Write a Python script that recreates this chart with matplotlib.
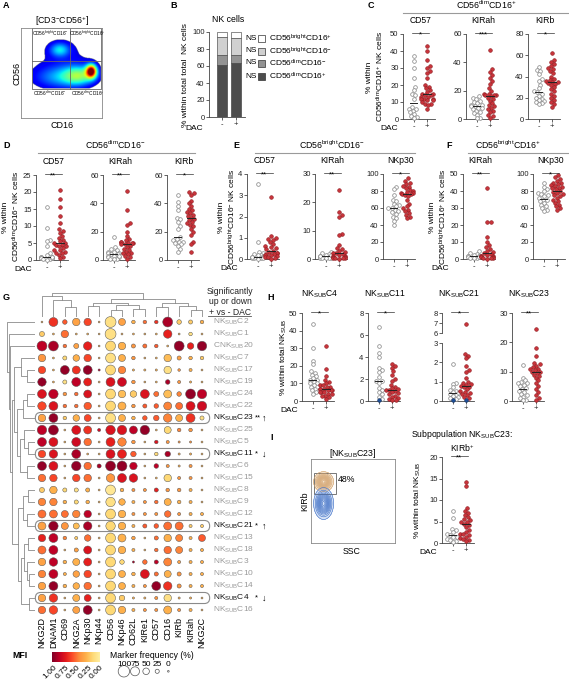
import numpy as np
import matplotlib
matplotlib.use('Agg')
import matplotlib.pyplot as plt
from matplotlib.patches import FancyBboxPatch, Rectangle
from matplotlib.lines import Line2D
from matplotlib.colors import LinearSegmentedColormap

plt.rcParams['font.family'] = ['Liberation Sans', 'DejaVu Sans']
plt.rcParams['mathtext.fontset'] = 'custom'
plt.rcParams['mathtext.rm'] = 'Liberation Sans'
plt.rcParams['mathtext.it'] = 'Liberation Sans:italic'
plt.rcParams['mathtext.bf'] = 'Liberation Sans:bold'
plt.rcParams['axes.linewidth'] = 0.6

# ---------------- data ----------------
# B: stacked NK subsets (- DAC, + DAC)
B_DIM_POS = [61, 64]
B_DIM_NEG = [12, 9]
B_BRIGHT_NEG = [21, 20]
B_BRIGHT_POS = [6, 7]

# C: CD56dim CD16+
C_CD57_NEG = [37, 34, 30, 24, 19, 17, 15, 14, 12, 7, 6, 6, 5, 4, 3, 2, 1, 0.5]
C_CD57_POS = [43, 40, 35, 31, 30, 28, 27, 24, 20, 19, 18, 17, 16, 15, 15, 14, 14,
              13, 13, 12, 12, 12, 11, 11, 10, 9, 9, 8, 6]
C_KIRAH_NEG = [16, 15, 14, 13, 12, 11, 10, 10, 9, 9, 8, 8, 7, 6, 5, 4, 3, 1, 0.5]
C_KIRAH_POS = [49, 35, 33, 31, 29, 27, 25, 22, 20, 18, 18, 17, 17, 17, 16, 15, 14,
               13, 11, 10, 9, 8, 7, 6, 5, 3, 2, 1]
C_KIRB_NEG = [49, 46, 45, 42, 38, 36, 32, 29, 26, 25, 24, 22, 20, 19, 18, 17, 16, 15, 14]
C_KIRB_POS = [62, 56, 54, 52, 50, 48, 47, 45, 43, 40, 38, 37, 36, 35, 35, 34, 33,
              32, 30, 28, 26, 24, 22, 20, 18, 16, 14, 11]

# D: CD56dim CD16-
D_CD57_NEG = [15.5, 9.5, 6, 5.5, 4, 2, 1.5, 1, 1, 0.8, 0.6, 0.5, 0.5, 0.3, 0.2, 0.1, 0.5, 1]
D_CD57_POS = [20.5, 18, 15.5, 13, 11, 9, 8.5, 8, 7, 6.5, 6, 5.5, 5, 5, 4.5, 4.5, 4,
              4, 3.5, 3, 3, 2.5, 2, 1.5, 1, 0.5, 2]
D_KIRAH_NEG = [16, 9, 8, 7, 6, 6, 5, 5, 4, 4, 3, 3, 2, 2, 1, 0.5, 1, 3]
D_KIRAH_POS = [49, 35, 26, 25, 20, 17, 15, 14, 13, 13, 12, 12, 12, 11, 11, 10, 9,
               8, 7, 6, 5, 5, 4, 3, 2, 1]
D_KIRB_NEG = [46, 41, 38, 35, 30, 29, 27, 24, 22, 16, 15, 14, 13, 13, 12, 11, 10, 8, 6]
D_KIRB_POS = [48, 47, 46, 42, 40, 38, 36, 35, 34, 33, 32, 31, 30, 29, 28, 27, 26,
              25, 24, 22, 20, 18, 13, 11, 6]

# E: CD56bright CD16-
E_CD57_NEG = [3.55, 0.8, 0.35, 0.3, 0.25, 0.2, 0.15, 0.1, 0.1, 0.08, 0.05, 0.05,
              0.03, 0.02, 0.1, 0.2, 0.05]
E_CD57_POS = [2.9, 1.1, 1.0, 0.95, 0.9, 0.8, 0.7, 0.6, 0.55, 0.5, 0.45, 0.4, 0.35,
              0.3, 0.3, 0.25, 0.25, 0.2, 0.2, 0.15, 0.1, 0.1, 0.05, 0.02]
E_KIRAH_NEG = [2.5, 2.0, 1.8, 1.5, 1.2, 1.0, 1.0, 0.8, 0.7, 0.5, 0.5, 0.4, 0.3, 0.2, 1.3, 0.9]
E_KIRAH_POS = [24.5, 16.5, 15.5, 15, 9, 8.5, 5, 4, 3.5, 3, 2.5, 2, 2, 1.8, 1.5, 1.2,
               1, 0.8, 0.6, 0.5, 0.4, 0.3, 0.2, 0.1]
E_NKP30_NEG = [85, 82, 75, 70, 68, 65, 63, 62, 60, 58, 56, 55, 53, 50, 48, 45, 40, 60]
E_NKP30_POS = [95, 92, 90, 88, 86, 85, 83, 81, 80, 79, 78, 78, 77, 76, 75, 74, 70,
               65, 62, 60, 58, 56, 54, 52, 50, 48]

# F: CD56bright CD16+
F_KIRAH_NEG = [4.5, 3.5, 3, 2.5, 2, 1.5, 1.5, 1, 1, 0.8, 0.5, 0.3, 2, 1.2]
F_KIRAH_POS = [42, 22, 22, 13, 10, 8, 7, 6, 5, 4, 3.5, 3, 2.5, 2, 1.8, 1.5, 1.2, 1,
               0.8, 0.5, 0.3, 0.2]
F_NKP30_NEG = [90, 85, 82, 80, 78, 76, 75, 74, 72, 70, 68, 66, 64, 62, 60, 58, 56, 70]
F_NKP30_POS = [99, 96, 94, 92, 90, 89, 88, 87, 86, 85, 84, 83, 82, 80, 79, 78, 76,
               75, 74, 72, 70, 68, 66, 64, 62, 60, 58]

# H: subpopulations
H_C4_NEG = [44, 30, 23, 21, 17, 16, 15, 14, 13, 12, 12, 11, 10, 10, 9, 8, 7, 6, 5, 4]
H_C4_POS = [31, 18, 14, 12, 11, 10, 9, 9, 8, 8, 7, 7, 7, 6, 6, 6, 5, 5, 5, 4, 4, 3, 3, 2, 1]
H_C11_NEG = [6.7, 5.0, 4.4, 4.0, 3.0, 2.8, 2.6, 2.2, 1.8, 1.8, 1.6, 1.2, 1.0, 0.8, 0.6, 0.4, 0.2]
H_C11_NEG_BLUE = [0.05]
H_C11_POS = [3.4, 3.2, 3.0, 2.7, 2.4, 2.0, 1.8, 1.5, 1.3, 1.2, 1.1, 1.0, 1.0, 0.9,
             0.8, 0.7, 0.6, 0.5, 0.4, 0.3, 0.2, 0.1, 0.05]
H_C21_NEG = [1.9, 0.95, 0.9, 0.7, 0.55, 0.5, 0.45, 0.4, 0.35, 0.3, 0.25, 0.2, 0.15, 0.1]
H_C21_NEG_BLUE = [0.05]
H_C21_POS = [6.9, 2.45, 2.35, 2.2, 1.8, 1.6, 1.5, 1.2, 1.0, 0.95, 0.9, 0.85, 0.8,
             0.75, 0.7, 0.6, 0.5, 0.45, 0.4, 0.35, 0.3, 0.2, 0.15]
H_C21_POS_BLUE = [0.05]
H_C23_NEG = [12.3, 8, 7, 6.5, 6, 6, 5.5, 5, 4.5, 4, 3.5, 3, 2.5, 2, 1.5, 1, 0.5, 0.2]
H_C23_POS = [24.5, 18, 15.5, 13, 12.5, 12, 11.5, 11, 11, 10.5, 10, 10, 9.5, 9, 8.5,
             8, 7, 6, 5, 4, 3, 2, 1, 0.5]

# I: NKsubC23 KIRb+
I_NEG = [7.5, 5.8, 3.3, 3.0, 2.5, 2.0, 1.8, 1.5, 1.3, 1.0, 0.8, 0.5, 0.2]
I_POS = [14.3, 13.3, 8.2, 7.5, 7.0, 6.5, 6.0, 5.6, 5.3, 5.0, 4.8, 4.5, 4.2, 3.8,
         3.0, 2.5, 2.2, 2.0, 1.8, 1.5, 1.2, 1.0, 0.8, 0.5]

# G: bubble heatmap
G_MARKERS = ['NKG2D', 'DNAM1', 'CD69', 'NKG2A', 'NKp30', 'NKp44', 'CD56', 'NKp46',
             'CD62L', 'KIRe1', 'CD57', 'CD16', 'KIRb', 'KIRah', 'NKG2C']
G_CLUSTERS = ['C2', 'C1', '20', 'C7', 'C17', 'C19', 'C24', 'C22', 'C23', 'C25', 'C5',
              'C11', 'C6', 'C15', 'C8', 'C9', 'C12', 'C21', 'C13', 'C18', 'C3', 'C10',
              'C14', 'C4', 'C16']
G_SIG = {'C23': ('**', '↑'), 'C11': ('*', '↓'), 'C21': ('*', '↑'), 'C4': ('*', '↓')}
G_FREQ = [
    [2, 75, 30, 60, 60, 2, 95, 55, 20, 20, 20, 85, 30, 25, 20],
    [35, 3, 60, 3, 3, 2, 95, 3, 3, 3, 3, 70, 3, 20, 3],
    [85, 85, 20, 35, 70, 2, 85, 60, 25, 25, 20, 3, 85, 50, 80],
    [60, 3, 25, 50, 60, 2, 85, 55, 20, 3, 3, 60, 25, 20, 20],
    [60, 3, 75, 65, 75, 5, 85, 60, 5, 5, 5, 60, 10, 15, 3],
    [70, 3, 25, 75, 65, 3, 75, 75, 20, 3, 3, 30, 15, 5, 3],
    [75, 80, 20, 20, 65, 3, 85, 60, 50, 75, 35, 65, 30, 85, 80],
    [70, 75, 20, 20, 60, 3, 85, 65, 20, 25, 30, 65, 55, 75, 80],
    [60, 75, 20, 50, 55, 3, 85, 55, 20, 30, 40, 70, 55, 75, 25],
    [80, 85, 3, 75, 65, 15, 80, 80, 65, 80, 3, 55, 20, 20, 3],
    [75, 75, 3, 75, 60, 3, 75, 70, 20, 3, 20, 15, 5, 5, 3],
    [60, 70, 3, 75, 3, 3, 75, 75, 40, 3, 20, 40, 5, 5, 3],
    [75, 75, 3, 80, 60, 25, 85, 85, 60, 3, 30, 15, 5, 15, 3],
    [60, 60, 3, 60, 60, 3, 70, 75, 70, 3, 3, 60, 15, 15, 3],
    [35, 60, 25, 25, 25, 3, 85, 20, 15, 15, 25, 20, 20, 15, 3],
    [60, 60, 20, 25, 20, 3, 80, 50, 15, 15, 20, 55, 20, 15, 3],
    [65, 65, 55, 60, 60, 3, 85, 60, 15, 15, 15, 50, 15, 15, 15],
    [65, 80, 55, 45, 70, 3, 80, 60, 15, 25, 30, 65, 65, 15, 15],
    [60, 75, 20, 15, 50, 3, 85, 65, 20, 3, 25, 60, 55, 15, 55],
    [65, 75, 3, 25, 65, 3, 85, 60, 15, 3, 20, 60, 55, 15, 15],
    [60, 70, 20, 55, 65, 3, 85, 30, 5, 30, 25, 65, 15, 15, 15],
    [60, 75, 15, 50, 60, 3, 85, 55, 20, 75, 25, 55, 25, 15, 15],
    [60, 75, 20, 50, 60, 3, 85, 55, 15, 15, 75, 70, 25, 15, 15],
    [60, 70, 3, 55, 55, 3, 85, 40, 5, 5, 15, 60, 5, 5, 3],
    [60, 70, 3, 55, 75, 3, 85, 60, 15, 15, 15, 65, 15, 15, 3],
]
G_MFI = [
    [.3, .65, .55, .35, .6, .3, .1, .35, .3, .5, .65, .9, .2, .2, .3],
    [.2, .3, .5, .3, .3, .3, .1, .3, .3, .3, .3, .7, .3, .1, .3],
    [.85, .9, .5, .35, .7, .3, .15, .3, .4, .5, .55, .3, .95, .7, .95],
    [.4, .3, .15, .3, .6, .3, .1, .3, .4, .3, .3, .25, .35, .3, .2],
    [.6, .3, .95, .65, .95, .9, .15, .45, .3, .3, .3, .1, .4, .3, .3],
    [.95, .3, .1, .85, .7, .3, .75, .8, .4, .3, .3, .9, .4, .3, .3],
    [.75, .85, .4, .5, .75, .3, .15, .25, .2, .75, .5, .25, .45, .95, .85],
    [.6, .75, .5, .5, .55, .3, .15, .3, .4, .55, .55, .45, .5, .75, .8],
    [.35, .95, .2, .3, .6, .3, .1, .3, .3, .55, .55, .45, .3, .65, .1],
    [.85, .95, .3, .75, .65, .8, .75, .75, .85, .95, .3, .15, .45, .4, .3],
    [.85, .75, .3, .8, .5, .3, .7, .45, .4, .3, .75, .4, .4, .4, .3],
    [.6, .75, .3, .9, .3, .3, .75, .7, .55, .3, .15, .9, .3, .3, .3],
    [.95, .75, .3, .95, .5, .9, .95, .95, .85, .3, .85, .4, .3, .4, .3],
    [.5, .6, .3, .6, .5, .3, .4, .75, .75, .3, .3, .15, .4, .4, .3],
    [.2, .3, .15, .1, .3, .3, .05, .3, .4, .4, .7, .4, .4, .3, .3],
    [.45, .45, .3, .15, .3, .3, .1, .3, .3, .4, .5, .3, .3, .3, .3],
    [.5, .5, .5, .45, .85, .3, .15, .3, .4, .4, .4, .5, .4, .3, .3],
    [.35, .95, .4, .25, .9, .3, .15, .3, .3, .55, .55, .5, .5, .2, .2],
    [.7, .85, .45, .2, .5, .3, .15, .3, .35, .3, .5, .3, .45, .3, .55],
    [.5, .85, .3, .35, .75, .3, .15, .3, .3, .3, .5, .5, .45, .3, .3],
    [.35, .85, .3, .3, .7, .3, .15, .15, .9, .5, .85, .45, .35, .3, .3],
    [.45, .85, .3, .35, .6, .3, .15, .3, .3, .75, .5, .3, .4, .3, .3],
    [.35, .95, .3, .3, .5, .3, .15, .3, .3, .4, .95, .65, .4, .3, .3],
    [.35, .65, .3, .3, .7, .3, .15, .2, .3, .3, .4, .1, .3, .3, .3],
    [.5, .6, .3, .35, .95, .3, .15, .3, .3, .4, .4, .3, .4, .3, .3],
]
# dendrograms: (left, right, height), leaves are indices
ROW_TREE = (0, (1, (2, (((3, (4, 5, 0.3), 0.5),
                          (((6, 7, 0.3), 8, 0.45),
                           ((9, (10, 11, 0.25), 0.4), (12, 13, 0.3), 0.55), 0.65), 0.75),
                         (((14, 15, 0.25), (16, 17, 0.3), 0.45),
                          (((18, 19, 0.25), (20, (21, 22, 0.2), 0.3), 0.4),
                           (23, 24, 0.2), 0.5), 0.6), 0.85), 0.9), 0.95), 1.0)
COL_TREE = ((0, (1, (2, 3, 0.4), 0.7), 0.9),
            (((4, 5, 0.45), ((6, 7, 0.3), (8, 9, 0.35), 0.5), 0.6),
             ((10, 11, 0.4), (12, (13, 14, 0.3), 0.45), 0.6), 0.75), 1.0)

# flow plot density blobs (cx, cy, sx, sy, amplitude) in axes fraction
A_BLOBS = [(0.87, 0.52, 0.045, 0.05, 1.0), (0.72, 0.47, 0.14, 0.075, 0.42),
           (0.45, 0.45, 0.22, 0.09, 0.22), (0.48, 0.76, 0.085, 0.055, 0.3),
           (0.55, 0.64, 0.33, 0.22, 0.1)]
I_BLOB_KIRB = (0.15, 0.73, 0.05, 0.05)
I_BLOB_REST = (0.15, 0.47, 0.05, 0.08)

# ---------------- helpers ----------------
W, H = 569, 680
fig = plt.figure(figsize=(W / 100, H / 100), dpi=100)
fig.patch.set_facecolor('white')

RED = '#c9343b'
NEG_KW = dict(facecolor='white', edgecolor='#8c8c8c', linewidth=0.55, s=7, zorder=3, clip_on=False)
POS_KW = dict(facecolor=RED, edgecolor='#8e1b20', linewidth=0.4, s=7, zorder=3, clip_on=False)
BLUE_KW = dict(facecolor='#1d4f9a', edgecolor='#13305e', linewidth=0.4, s=7, zorder=4, clip_on=False)


def px_ax(x0, y0, x1, y1):
    return fig.add_axes([x0 / W, 1 - y1 / H, (x1 - x0) / W, (y1 - y0) / H])


def ftext(x, y, s, **kw):
    kw.setdefault('fontsize', 6)
    return fig.text(x / W, 1 - y / H, s, **kw)


def fline(x0, x1, y, color='#9a9a9a', lw=0.8):
    fig.add_artist(Line2D([x0 / W, x1 / W], [1 - y / H, 1 - y / H],
                          transform=fig.transFigure, color=color, lw=lw))


def swarm(vals, yppu, d=3.6):
    vals = np.asarray(vals, float)
    placed = []
    offs = np.zeros(len(vals))
    for i in np.argsort(vals):
        y = vals[i] * yppu
        cands = [0.0]
        for px, py in placed:
            dy = abs(py - y)
            if dy < d:
                dx = np.sqrt(d * d - dy * dy)
                cands += [px + dx + 0.01, px - dx - 0.01]
        cands.sort(key=abs)
        for c in cands:
            if all((c - px) ** 2 + (y - py) ** 2 >= d * d - 0.05 for px, py in placed):
                break
        placed.append((c, y))
        offs[i] = c
    return offs


def style_ax(ax, ymin, ymax, yticks, bottom=True):
    for s in ('top', 'right'):
        ax.spines[s].set_visible(False)
    ax.spines['left'].set_color('#444')
    ax.spines['bottom'].set_color('#444')
    ax.spines['bottom'].set_visible(bottom)
    ax.set_ylim(ymin, ymax)
    ax.set_yticks(yticks)
    ax.set_yticklabels([f'{t:g}' for t in yticks])
    ax.set_xlim(-0.8, 1.6)
    if bottom:
        ax.set_xticks([0, 1])
        ax.set_xticklabels(['-', '+'], fontsize=6.5)
    else:
        ax.set_xticks([])
    ax.tick_params(labelsize=5.5, length=2, width=0.5, pad=1.2, colors='#222')
    ax.patch.set_alpha(0)


def plot_groups(ax, box, ymin, ymax, neg, pos, neg_blue=(), pos_blue=()):
    x0, y0, x1, y1 = box
    xppu = (x1 - x0) / 2.4
    yppu = (y1 - y0) / (ymax - ymin)
    for xi, vals, blue, kw in ((0, neg, neg_blue, NEG_KW), (1, pos, pos_blue, POS_KW)):
        allv = list(vals) + list(blue)
        off = np.clip(swarm(np.array(allv) - ymin, yppu) / xppu, -0.42, 0.42)
        n = len(vals)
        ax.scatter(xi + off[:n], vals, **kw)
        if blue:
            ax.scatter(xi + off[n:], blue, **BLUE_KW)
        med = np.median(allv)
        ax.plot([xi - 0.28, xi + 0.28], [med, med], color='#222', lw=0.7, zorder=5)


def annotate(box, title, stars, title_dy=9):
    x0, y0, x1, y1 = box
    u = (x1 - x0) / 2.4
    g0, g1 = x0 + 0.8 * u, x0 + 1.8 * u
    ftext((g0 + g1) / 2, y0 - title_dy, title, ha='center', va='bottom', fontsize=6.2)
    fline(g0 - 2, g1 + 2, y0 - 1, color='#333', lw=0.5)
    ftext((g0 + g1) / 2, y0 + 2.5, stars, ha='center', va='baseline', fontsize=5.5)


def strip(box, neg, pos, ymax, yticks, title, stars, dac_x=None, neg_blue=(), pos_blue=(), title_dy=9):
    ax = px_ax(*box)
    style_ax(ax, 0, ymax, yticks)
    plot_groups(ax, box, 0, ymax, neg, pos, neg_blue, pos_blue)
    annotate(box, title, stars, title_dy)
    if dac_x is not None:
        ftext(dac_x, box[3] + 10, 'DAC', ha='right', va='center')
    return ax


def draw_tree(ax, node, orient):
    if isinstance(node, int):
        return float(node), 0.0
    left, right, h = node
    pl, hl = draw_tree(ax, left, orient)
    pr, hr = draw_tree(ax, right, orient)
    if orient == 'left':
        ax.plot([hl, h, h, hr], [pl, pl, pr, pr], color='#8a8a8a', lw=0.6)
    else:
        ax.plot([pl, pl, pr, pr], [hl, h, h, hr], color='#8a8a8a', lw=0.6)
    return (pl + pr) / 2, h


def sub(s):
    return r'NK$_{\mathrm{SUB}}$' + s


# ---------------- panel letters ----------------
for lab, x, y in [('A', 3, 5), ('B', 170, 5), ('C', 368, 5), ('D', 3, 146), ('E', 233, 146),
                  ('F', 446, 146), ('G', 3, 297), ('H', 267, 297), ('I', 270, 438)]:
    ftext(x, y, lab, fontweight='bold', fontsize=6.5, va='center')

# ---------------- A: flow plot ----------------
axa = px_ax(21, 28, 102, 118)
gx, gy = np.meshgrid(np.linspace(0, 1, 240), np.linspace(0, 1, 240))
dens = np.zeros_like(gx)
for cx, cy, sx, sy, amp in A_BLOBS:
    dens += amp * np.exp(-((gx - cx) ** 2 / (2 * sx ** 2) + (gy - cy) ** 2 / (2 * sy ** 2)))
inside = (gx > 0.14) & (gx < 0.99) & (gy > 0.33) & (gy < 0.97)
dens = np.ma.masked_where((dens < 0.09) | ~inside, dens)
axa.imshow(dens, origin='lower', extent=[0, 1, 0, 1], cmap='jet', vmin=0.0, vmax=1.05,
           interpolation='bilinear', aspect='auto')
axa.plot([0.136, 0.99, 0.99, 0.136, 0.136], [1.0, 1.0, 0.322, 0.322, 1.0], color='#666', lw=0.6)
axa.plot([0.605, 0.605], [0.322, 1.0], color='#666', lw=0.6)
axa.plot([0.136, 0.99], [0.633, 0.633], color='#666', lw=0.6)
axa.set_xlim(0, 1)
axa.set_ylim(0, 1)
axa.set_xticks([])
axa.set_yticks([])
for s in axa.spines.values():
    s.set_color('#888')
ftext(62, 21, r'[CD3$^{-}$CD56$^{+}$]', ha='center', va='center', fontsize=6.3)
ftext(17, 73, 'CD56', rotation=90, ha='center', va='center', fontsize=6.5)
ftext(62, 125, 'CD16', ha='center', va='center', fontsize=6.5)
for txt, x, y in [(r'CD56$^{\mathrm{bright}}$CD16$^{-}$', 50, 33), (r'CD56$^{\mathrm{bright}}$CD16$^{+}$', 87, 33),
                  (r'CD56$^{\mathrm{dim}}$CD16$^{-}$', 50, 93), (r'CD56$^{\mathrm{dim}}$CD16$^{+}$', 88, 93)]:
    ftext(x, y, txt, ha='center', va='center', fontsize=3.4)

# ---------------- B: stacked bars ----------------
boxb = (209, 32, 245, 117)
axb = px_ax(*boxb)
B_SERIES = [B_DIM_POS, B_DIM_NEG, B_BRIGHT_NEG, B_BRIGHT_POS]
B_COLORS = ['#4d4d4d', '#939393', '#d0d0d0', 'white']
B_NAMES = [r'CD56$^{\mathrm{dim}}$CD16$^{+}$', r'CD56$^{\mathrm{dim}}$CD16$^{-}$',
           r'CD56$^{\mathrm{bright}}$CD16$^{-}$', r'CD56$^{\mathrm{bright}}$CD16$^{+}$']
bottom = np.zeros(2)
for vals, col in zip(B_SERIES, B_COLORS):
    axb.bar([0, 1], vals, bottom=bottom, width=0.72, color=col, edgecolor='#333', linewidth=0.4)
    bottom += np.array(vals)
style_ax(axb, 0, 100, [0, 20, 40, 60, 80, 100])
axb.set_xlim(-0.93, 1.64)
ftext(228, 19, 'NK cells', ha='center', va='center', fontsize=6.3)
ftext(186, 75, '% within total total  NK cells', rotation=90, ha='center', va='center')
ftext(203, 129, 'DAC', ha='right', va='center')
for i, (name, col) in enumerate(zip(B_NAMES[::-1], B_COLORS[::-1])):
    y = [38, 51, 63, 76][i]
    ftext(245, y, 'NS', ha='left', va='center', fontsize=6)
    fig.add_artist(Rectangle((258 / W, 1 - (y + 3.5) / H), 7 / W, 7 / H, transform=fig.transFigure,
                             facecolor=col, edgecolor='#333', lw=0.5))
    ftext(269, y, name, ha='left', va='center', fontsize=6)

# ---------------- C ----------------
ftext(486, 5, r'CD56$^{\mathrm{dim}}$CD16$^{+}$', ha='center', va='center', fontsize=6.3)
fline(403, 569, 13)
strip((403, 34, 435, 119), C_CD57_NEG, C_CD57_POS, 50, range(0, 51, 10), 'CD57', '*', dac_x=398)
strip((466, 34, 498, 119), C_KIRAH_NEG, C_KIRAH_POS, 60, range(0, 61, 20), 'KIRah', '***')
strip((528, 34, 560, 119), C_KIRB_NEG, C_KIRB_POS, 80, range(0, 81, 20), 'KIRb', '*')
ftext(376, 77, '% within\n' + r'CD56$^{\mathrm{dim}}$CD16$^{+}$ NK cells', rotation=90,
      ha='center', va='center', linespacing=1.1)

# ---------------- D ----------------
ftext(115, 145, r'CD56$^{\mathrm{dim}}$CD16$^{-}$', ha='center', va='center', fontsize=6.3)
fline(38, 195, 153)
strip((36, 175, 68, 260), D_CD57_NEG, D_CD57_POS, 25, range(0, 26, 5), 'CD57', '**', dac_x=32)
strip((103, 175, 135, 260), D_KIRAH_NEG, D_KIRAH_POS, 60, range(0, 61, 20), 'KIRah', '**')
strip((167, 175, 199, 260), D_KIRB_NEG, D_KIRB_POS, 60, range(0, 61, 20), 'KIRb', '*')
ftext(12, 217, '% within\n' + r'CD56$^{\mathrm{dim}}$CD16$^{-}$ NK cells', rotation=90,
      ha='center', va='center', linespacing=1.1)

# ---------------- E ----------------
ftext(332, 145, r'CD56$^{\mathrm{bright}}$CD16$^{-}$', ha='center', va='center', fontsize=6.3)
fline(255, 415, 153)
strip((247, 174, 279, 259), E_CD57_NEG, E_CD57_POS, 4, range(0, 5), 'CD57', '**', dac_x=238)
strip((315, 174, 347, 259), E_KIRAH_NEG, E_KIRAH_POS, 30, range(0, 31, 10), 'KIRah', '**')
strip((383, 174, 415, 259), E_NKP30_NEG, E_NKP30_POS, 100, range(0, 101, 20), 'NKp30', '*')
ftext(228, 217, '% within\n' + r'CD56$^{\mathrm{bright}}$CD16$^{-}$ NK cells', rotation=90,
      ha='center', va='center', linespacing=1.1)

# ---------------- F ----------------
ftext(508, 145, r'CD56$^{\mathrm{bright}}$CD16$^{+}$', ha='center', va='center', fontsize=6.3)
fline(468, 569, 153)
strip((463, 174, 495, 259), F_KIRAH_NEG, F_KIRAH_POS, 50, range(0, 51, 10), 'KIRah', '**', dac_x=449)
strip((533, 174, 565, 259), F_NKP30_NEG, F_NKP30_POS, 100, range(0, 101, 20), 'NKp30', '*')
ftext(439, 217, '% within\n' + r'CD56$^{\mathrm{bright}}$CD16$^{+}$ NK cells', rotation=90,
      ha='center', va='center', linespacing=1.1)

# ---------------- H ----------------
strip((302, 313, 334, 401), H_C4_NEG, H_C4_POS, 50, range(0, 51, 10), sub('C4'), '*',
      dac_x=298, title_dy=13)
strip((368, 313, 400, 401), H_C11_NEG, H_C11_POS, 8, range(0, 9, 2), sub('C11'), '*',
      neg_blue=H_C11_NEG_BLUE, title_dy=13)
# broken axis for C21
box_lo = (442, 343, 474, 401)
box_hi = (442, 313, 474, 333)
ax_lo = px_ax(*box_lo)
style_ax(ax_lo, 0, 3, [0, 1, 2, 3])
ax_hi = px_ax(*box_hi)
style_ax(ax_hi, 6, 8, [6, 7, 8], bottom=False)
lo_pos = [v for v in H_C21_POS if v <= 3]
hi_pos = [v for v in H_C21_POS if v > 3]
plot_groups(ax_lo, box_lo, 0, 3, H_C21_NEG, lo_pos, H_C21_NEG_BLUE, H_C21_POS_BLUE)
ax_hi.scatter([1] * len(hi_pos), hi_pos, **POS_KW)
annotate(box_hi, sub('C21'), '*', title_dy=13)
strip((512, 313, 544, 401), H_C23_NEG, H_C23_POS, 30, range(0, 31, 10), sub('C23'), '**',
      title_dy=13)
ftext(284, 357, '% within total ' + r'NK$_{\mathrm{SUB}}$', rotation=90, ha='center', va='center')

# ---------------- I ----------------
axi = px_ax(311, 459, 395, 543)
gx, gy = np.meshgrid(np.linspace(0, 1, 200), np.linspace(0, 1, 200))
for (cx, cy, sx, sy), col, fill in ((I_BLOB_KIRB, '#d2a06a', '#f3e2cc'),
                                    (I_BLOB_REST, '#3b6cc4', '#d3e0f5')):
    blob = np.exp(-((gx - cx) ** 2 / (2 * sx ** 2) + (gy - cy) ** 2 / (2 * sy ** 2)))
    axi.contourf(gx, gy, blob, levels=[0.06, 1.1], colors=[fill])
    axi.contour(gx, gy, blob, levels=np.linspace(0.06, 0.95, 12), colors=col, linewidths=0.4)
axi.add_patch(Rectangle((0.036, 0.58), 0.264, 0.25, fill=False, edgecolor='#777', lw=0.7))
axi.set_xlim(0, 1)
axi.set_ylim(0, 1)
axi.set_xticks([])
axi.set_yticks([])
for s in axi.spines.values():
    s.set_color('#888')
ftext(353, 453, '[' + sub('C23') + ']', ha='center', va='center', fontsize=6.3)
ftext(346, 480, '48%', ha='center', va='center', fontsize=6.3)
ftext(305, 501, 'KIRb', rotation=90, ha='center', va='center', fontsize=6.3)
ftext(352, 551, 'SSC', ha='center', va='center', fontsize=6.3)

boxi = (442, 457, 474, 543)
axis_i = px_ax(*boxi)
style_ax(axis_i, 0, 20, range(0, 21, 5))
plot_groups(axis_i, boxi, 0, 20, I_NEG, I_POS)
annotate(boxi, '', '**')
ftext(462, 441, 'Subpopulation ' + sub('C23') + ':\n' + r'KIRb$^{+}$', ha='center', va='center',
      fontsize=6.2, linespacing=1.2)
ftext(437, 553, 'DAC', ha='right', va='center')
ftext(418, 500, '% within total ' + r'NK$_{\mathrm{SUB}}$', rotation=90, ha='center', va='center')

# ---------------- G: bubble heatmap ----------------
cmap = LinearSegmentedColormap.from_list('mfi', plt.cm.YlOrRd(np.linspace(0.12, 1.0, 256)))
axg = px_ax(35, 316, 210, 616)
freq = np.array(G_FREQ, float)
mfi = np.array(G_MFI, float)
xs, ys = np.meshgrid(np.arange(len(G_MARKERS)), np.arange(len(G_CLUSTERS)))
axg.scatter(xs.ravel(), ys.ravel(), s=((1.2 + 7.0 * freq / 100) ** 2).ravel(), c=mfi.ravel(),
            cmap=cmap, vmin=0, vmax=1, edgecolors='#555555', linewidths=0.35, zorder=3)
axg.set_xlim(-0.61, 14.7)
axg.set_ylim(24.5, -0.5)
axg.axis('off')
for r, cl in enumerate(G_CLUSTERS):
    y = 322 + 12 * r
    lab = r'CNK$_{\mathrm{SUB}}$20' if cl == '20' else sub(cl)
    if cl in G_SIG:
        axg.add_patch(FancyBboxPatch((-0.58, r - 0.46), 15.25, 0.92,
                                     boxstyle='round,pad=0,rounding_size=0.46',
                                     fill=False, edgecolor='#8a8a8a', lw=0.8, clip_on=False))
        ftext(213, y, lab, ha='left', va='center', fontsize=6.0, color='#111')
        st, arr = G_SIG[cl]
        ftext(255, y, st, ha='left', va='center', fontsize=5.5)
        ftext(262, y, arr, ha='left', va='center', fontsize=6.5)
    else:
        ftext(213, y, lab, ha='left', va='center', fontsize=6.0, color='#9a9a9a')
for i, m in enumerate(G_MARKERS):
    ftext(42 + 11.43 * i, 617, m, rotation=90, ha='center', va='top', fontsize=6.5)

ax_rt = px_ax(6, 316, 35, 616)
draw_tree(ax_rt, ROW_TREE, 'left')
ax_rt.set_xlim(1.05, 0)
ax_rt.set_ylim(24.5, -0.5)
ax_rt.axis('off')
ax_ct = px_ax(35, 292, 210, 317)
draw_tree(ax_ct, COL_TREE, 'top')
ax_ct.set_xlim(-0.61, 14.7)
ax_ct.set_ylim(0, 1.05)
ax_ct.axis('off')

ftext(230, 302, 'Significantly\nup or down\n+ vs - DAC', ha='center', va='center', fontsize=6.2,
      color='#222', linespacing=1.15)
fline(208, 251, 315.5, color='#555', lw=0.6)

# MFI colour bar
axc = px_ax(52, 652, 100, 662)
axc.imshow(np.linspace(1, 0, 200)[None, :], cmap=cmap, vmin=0, vmax=1, aspect='auto',
           extent=[0, 1, 0, 1])
axc.set_xticks([])
axc.set_yticks([])
for s in axc.spines.values():
    s.set_visible(False)
ftext(12, 656, 'MFI', fontweight='bold', fontsize=6.3, va='center')
for i, t in enumerate(['1.00', '0.75', '0.50', '0.25', '0.00']):
    ftext(54 + 11.5 * i, 664, t, rotation=45, ha='right', va='top', fontsize=6,
          rotation_mode='anchor')

# marker frequency legend
ftext(110, 655, 'Marker frequency (%)', ha='left', va='center', fontsize=6.2)
axl = px_ax(115, 660, 175, 680)
legf = [100, 75, 50, 25, 0]
axl.scatter(range(5), [0] * 5, s=[(1.2 + 7.0 * f / 100) ** 2 for f in legf], facecolor='white',
            edgecolor='#555', linewidths=0.5, clip_on=False)
axl.set_xlim(-0.8, 4.6)
axl.set_ylim(-1, 1.3)
axl.axis('off')
for i, f in enumerate(legf):
    ftext(124 + 11 * i, 664, str(f), ha='center', va='center', fontsize=6)

fig.savefig('out.png', dpi=100)
